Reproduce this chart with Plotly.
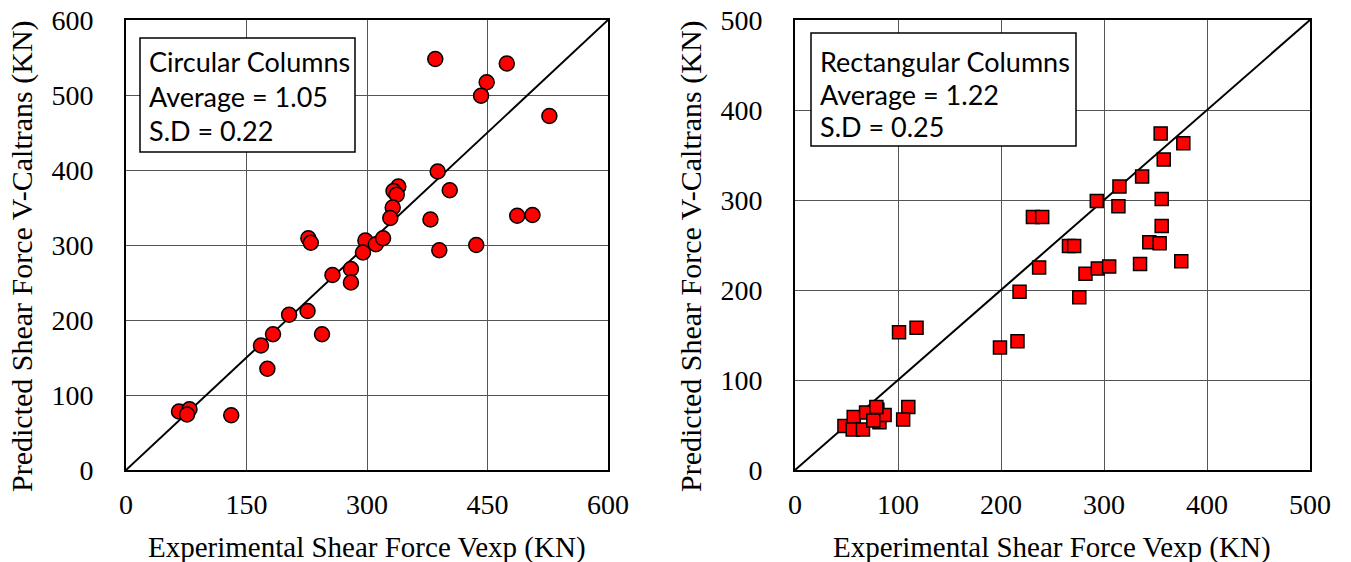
import plotly.graph_objects as go

W, H = 1351, 562

# Circular columns (left)
circ_exp = [385, 474, 449, 442, 527, 388, 339, 333, 337, 403, 332, 329, 379, 487, 506,
            227, 230, 298, 311, 320, 390, 436, 295, 280, 257, 280, 203, 226, 183, 244,
            168, 176, 66, 79, 76, 131]
circ_pred = [548, 542, 517, 499, 472, 398, 378, 372, 367, 373, 350, 336, 334, 339, 340,
             309, 303, 306, 301, 309, 293, 300, 290, 268, 260, 250, 207, 212, 181, 181,
             166, 135, 78, 81, 74, 73]

# Rectangular columns (right)
rect_exp = [355, 377, 358, 337, 315, 293, 314, 356, 356, 231, 240, 266, 271, 344, 354,
            237, 282, 294, 305, 335, 375, 218, 276, 101, 118, 199, 216, 110, 105,
            48, 57, 56, 66, 69, 80, 82, 87, 76, 79]
rect_pred = [374, 363, 345, 326, 315, 299, 293, 301, 271, 281, 281, 249, 249, 253, 252,
             225, 218, 224, 226, 229, 232, 198, 192, 153, 158, 136, 143, 70, 56,
             49, 59, 45, 45, 64, 67, 53, 61, 55, 70]

left_ticks = [0, 150, 300, 450, 600]
left_yticks = [0, 100, 200, 300, 400, 500, 600]
right_ticks = [0, 100, 200, 300, 400, 500]

left_box = ["Circular Columns", "Average = 1.05", "S.D = 0.22"]
right_box = ["Rectangular Columns", "Average = 1.22", "S.D = 0.25"]

x_title = "Experimental Shear Force Vexp (KN)"
y_title = "Predicted Shear Force V-Caltrans (KN)"


def px(x):
    return x / W


def py(y):
    return 1 - y / H


fig = go.Figure()

# 1:1 lines
fig.add_trace(go.Scatter(x=[0, 600], y=[0, 600], mode="lines",
                         line=dict(color="black", width=2), xaxis="x", yaxis="y",
                         showlegend=False, hoverinfo="skip"))
fig.add_trace(go.Scatter(x=[0, 500], y=[0, 500], mode="lines",
                         line=dict(color="black", width=2), xaxis="x2", yaxis="y2",
                         showlegend=False, hoverinfo="skip"))

fig.add_trace(go.Scatter(x=circ_exp, y=circ_pred, mode="markers",
                         marker=dict(symbol="circle", size=15, color="#FF0000",
                                     line=dict(color="black", width=1.5)),
                         xaxis="x", yaxis="y", showlegend=False))
fig.add_trace(go.Scatter(x=rect_exp, y=rect_pred, mode="markers",
                         marker=dict(symbol="square", size=13, color="#FF0000",
                                     line=dict(color="black", width=1.5)),
                         xaxis="x2", yaxis="y2", showlegend=False))

tickfont = dict(family="Liberation Serif, Times New Roman, serif", size=28, color="black")
axis_common = dict(showgrid=True, gridcolor="#555555", gridwidth=1,
                   showline=True, linecolor="black", linewidth=2, mirror=True,
                   zeroline=False, ticks="", tickfont=tickfont, fixedrange=True,
                   automargin=False)

fig.update_layout(
    width=W, height=H,
    margin=dict(l=0, r=0, t=0, b=0),
    paper_bgcolor="white", plot_bgcolor="white",
    xaxis=dict(domain=[px(126), px(608)], range=[0, 600], tickvals=left_ticks,
               anchor="y", ticklabelstandoff=8, **axis_common),
    yaxis=dict(domain=[py(470), py(20)], range=[0, 600], tickvals=left_yticks,
               anchor="x", ticklabelstandoff=25, **axis_common),
    xaxis2=dict(domain=[px(795), px(1310)], range=[0, 500], tickvals=right_ticks,
                anchor="y2", ticklabelstandoff=8, **axis_common),
    yaxis2=dict(domain=[py(470), py(20)], range=[0, 500], tickvals=right_ticks,
                anchor="x2", ticklabelstandoff=25, **axis_common),
)

titlefont = dict(family="Liberation Serif, Times New Roman, serif", size=29, color="black")
ytitlefont = dict(family="Liberation Serif, Times New Roman, serif", size=30, color="black")
annotations = [
    dict(text=x_title, x=px(367), y=py(547), xref="paper", yref="paper",
         showarrow=False, font=titlefont, xanchor="center", yanchor="middle"),
    dict(text=x_title, x=px(1052), y=py(547), xref="paper", yref="paper",
         showarrow=False, font=titlefont, xanchor="center", yanchor="middle"),
    dict(text=y_title, x=px(22), y=py(256), xref="paper", yref="paper",
         showarrow=False, font=ytitlefont, textangle=-90,
         xanchor="center", yanchor="middle"),
    dict(text=y_title, x=px(691), y=py(256), xref="paper", yref="paper",
         showarrow=False, font=ytitlefont, textangle=-90,
         xanchor="center", yanchor="middle"),
]

boxfont = dict(family="Lato, Carlito, Calibri, sans-serif", size=27, color="black")
for i, t in enumerate(left_box):
    annotations.append(dict(text=t, x=px(147), y=py(61 + 35 * i), xref="paper", yref="paper",
                            showarrow=False, font=boxfont, xanchor="left", yanchor="middle"))
for i, t in enumerate(right_box):
    annotations.append(dict(text=t, x=px(818), y=py(62 + 32 * i), xref="paper", yref="paper",
                            showarrow=False, font=boxfont, xanchor="left", yanchor="middle"))
fig.update_layout(annotations=annotations)

fig.update_layout(shapes=[
    dict(type="rect", xref="paper", yref="paper", x0=px(140), x1=px(355), y0=py(152), y1=py(38),
         line=dict(color="black", width=1.5), fillcolor="white", layer="above"),
    dict(type="rect", xref="paper", yref="paper", x0=px(811), x1=px(1076), y0=py(146), y1=py(33),
         line=dict(color="black", width=1.5), fillcolor="white", layer="above"),
])

fig.write_html("out.html", config={"displayModeBar": False},
               post_script="document.body.style.margin='0';document.body.style.overflow='hidden';")
